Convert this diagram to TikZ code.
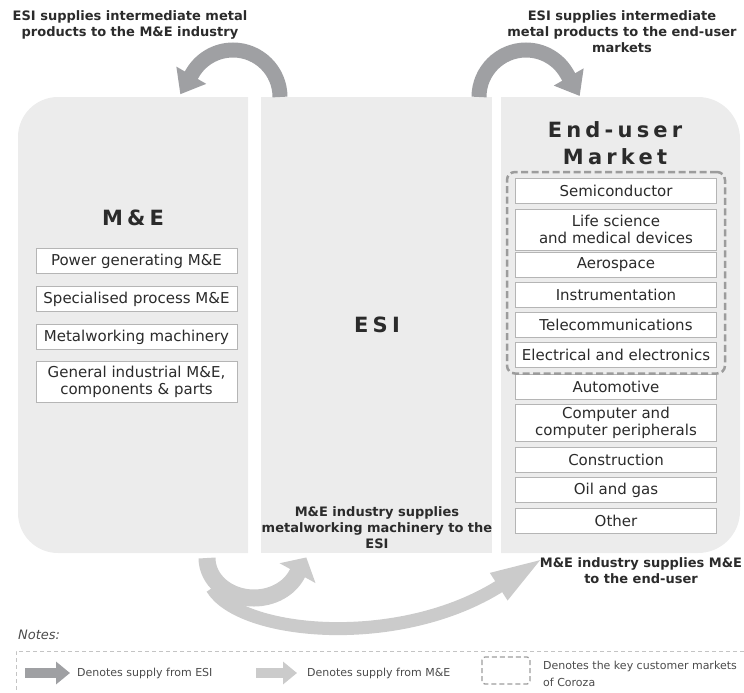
\documentclass[tikz,border=0pt]{standalone}
\usepackage{fontspec}
\setmainfont{DejaVu Sans}
\newfontfamily\headfont[LetterSpace=20]{DejaVu Sans Bold}
\usetikzlibrary{arrows.meta, fit}

\definecolor{panelgray}{HTML}{ECECEC}
\definecolor{esigray}{HTML}{9FA0A3}
\definecolor{megray}{HTML}{CBCBCB}
\definecolor{boxline}{HTML}{B5B5B5}
\definecolor{keydash}{HTML}{9C9C9C}
\definecolor{legline}{HTML}{C4C4C4}
\definecolor{txt}{HTML}{2B2B2B}

\tikzset{
  item/.style={draw=boxline, fill=white, line width=1pt, minimum width=201pt,
    minimum height=25pt, inner sep=0pt, align=center, text=txt,
    font=\fontsize{15}{17}\selectfont},
  heading/.style={text=txt, align=center, inner sep=0pt,
    font=\headfont\fontsize{21}{27}\selectfont},
  note/.style={text=txt, align=center, inner sep=0pt,
    font=\fontsize{13}{16}\selectfont\bfseries},
  legtext/.style={text=txt!85, inner sep=0pt, font=\fontsize{11}{17}\selectfont},
  keybox/.style={draw=keydash, line width=2.5pt, dash pattern=on 7pt off 3.5pt,
    rounded corners=8pt, inner xsep=8pt, inner ysep=5.5pt},
  esiarrow/.style={draw=esigray, line width=15pt, -{Triangle[width=33pt,length=22pt]}},
  mearrow/.style={draw=megray, line width=17pt, -{Triangle[width=40pt,length=18pt]}},
  melong/.style={draw=megray, line width=13pt, -{Triangle[width=28pt,length=55pt]}},
}

\begin{document}
\begin{tikzpicture}[x=1pt,y=1pt]
\useasboundingbox (0,0) rectangle (744,-693);

% panels
\fill[panelgray] (248,-97) -- (58,-97) arc[start angle=90,end angle=180,radius=40pt]
  -- (18,-513) arc[start angle=180,end angle=270,radius=40pt] -- (248,-553) -- cycle;
\fill[panelgray] (261,-97) rectangle (492,-553);
\fill[panelgray] (501,-97) -- (698,-97) arc[start angle=90,end angle=0,radius=42pt]
  -- (740,-511) arc[start angle=0,end angle=-90,radius=42pt] -- (501,-553) -- cycle;

\node[heading] (mehead) at (133,-218) {M\&E};
\node[heading] (esihead) at (377,-325) {ESI};
\node[heading] (euhead) at (615,-143) {End-user\\Market};

\begin{scope}[every node/.style={item}]
    \node (power) at (136.5,-261) {Power generating M\&E};
    \node (process) at (136.5,-299) {Specialised process M\&E};
    \node (metalw) at (136.5,-337) {Metalworking machinery};
    \node[minimum height=41pt] (general) at (136.5,-382) {General industrial M\&E,\\components \& parts};

    \node (semi) at (616,-190.5) {Semiconductor};
    \node[minimum height=41pt] (life) at (616,-229.5) {Life science\\and medical devices};
    \node (aero) at (616,-264.5) {Aerospace};
    \node (instr) at (616,-295) {Instrumentation};
    \node (telecom) at (616,-325) {Telecommunications};
    \node (elec) at (616,-355) {Electrical and electronics};
    \node (auto) at (616,-386.5) {Automotive};
    \node[minimum height=37pt] (computer) at (616,-422.5) {Computer and\\computer peripherals};
    \node (constr) at (616,-459.5) {Construction};
    \node (oil) at (616,-490) {Oil and gas};
    \node (other) at (616,-520.5) {Other};
\end{scope}
\node[keybox, fit=(semi)(elec)] (key) {};

% supply arrows
\coordinate (esiOutL) at (280,-97);
\coordinate (esiOutR) at (479,-97);
\coordinate (meOutU) at (207,-558);
\coordinate (meOutL) at (212,-588);
\coordinate (euIn) at (545,-557);

\draw[esiarrow] (esiOutL) arc[start angle=0,end angle=150,radius=47pt] -- ++(240:24pt);
\draw[esiarrow] (esiOutR) arc[start angle=180,end angle=30,radius=47pt] -- ++(-60:26pt);
\draw[melong] (meOutL) .. controls (240,-635) and (400,-650) .. (euIn);
\draw[mearrow] (meOutU) arc[start angle=180,end angle=335,x radius=47pt,y radius=40pt] -- ++(61:20pt);

\node[note] (esiToMe) at (130,-25) {ESI supplies intermediate metal\\products to the M\&E industry};
\node[note] (esiToEu) at (622,-32) {ESI supplies intermediate\\metal products to the end-user\\markets};
\node[note] (meToEsi) at (377,-528) {M\&E industry supplies\\metalworking machinery to the\\ESI};
\node[note] (meToEu) at (641,-571) {M\&E industry supplies M\&E\\to the end-user};

% legend
\node[legtext, anchor=west, font=\fontsize{13}{16}\selectfont\itshape] (notes) at (18,-635) {Notes:};
\draw[legline, line width=0.8pt, dash pattern=on 4pt off 3pt] (744,-651) -- (16,-651) -- (16,-693);

\coordinate (lgEsiA) at (25,-673);
\coordinate (lgEsiB) at (70,-673);
\coordinate (lgMeA) at (256,-673);
\coordinate (lgMeB) at (297,-673);
\draw[draw=esigray, line width=10pt, -{Triangle[width=22pt,length=14pt]}] (lgEsiA) -- (lgEsiB);
\draw[draw=megray, line width=10pt, -{Triangle[width=22pt,length=14pt]}] (lgMeA) -- (lgMeB);
\draw[keydash, line width=1.3pt, dash pattern=on 5pt off 3pt, rounded corners=3pt] (482,-657) rectangle (530,-684);

\node[legtext, anchor=west] (lgEsi) at (77,-673) {Denotes supply from ESI};
\node[legtext, anchor=west] (lgMe) at (307,-673) {Denotes supply from M\&E};
\node[legtext, anchor=west, align=left] (lgKey) at (543,-673.5) {Denotes the key customer markets\\of Coroza};
\end{tikzpicture}
\end{document}
